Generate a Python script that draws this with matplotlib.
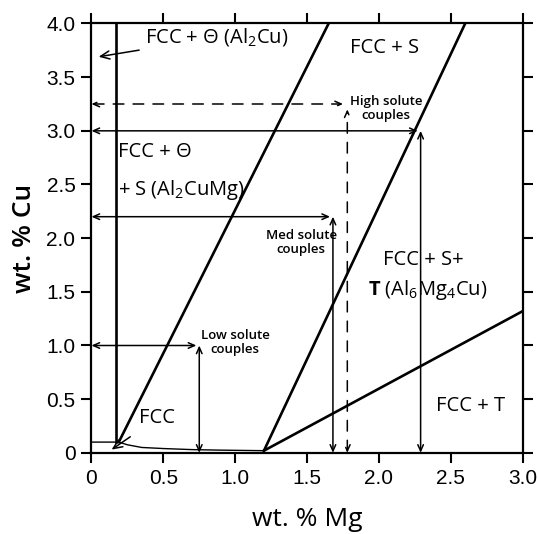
import matplotlib
matplotlib.use('Agg')
import matplotlib.pyplot as plt
import numpy as np

plt.rcParams['mathtext.fontset'] = 'custom'
plt.rcParams['mathtext.rm'] = 'Open Sans'
plt.rcParams['mathtext.bf'] = 'Open Sans:bold'

# phase boundaries (wt.% Mg, wt.% Cu)
theta_x = [0.17, 0.17]
theta_y = [0.1, 4.0]
s_left_x = [0.19, 1.65]
s_left_y = [0.1, 4.0]
s_right_x = [1.2, 2.6]
s_right_y = [0.02, 4.0]
t_x = [1.2, 3.0]
t_y = [0.02, 1.32]
solvus_x = [0.0, 0.17, 0.19, 0.25, 0.35, 0.5, 0.7, 0.9, 1.2]
solvus_y = [0.1, 0.1, 0.1, 0.075, 0.05, 0.04, 0.03, 0.025, 0.02]

# diffusion couples: (Mg end, Cu end)
low = (0.75, 1.0)
med = (1.68, 2.2)
high = (2.29, 3.0)
high_dash = (1.78, 3.25)

xticks = [0, 0.5, 1.0, 1.5, 2.0, 2.5, 3.0]
xticklabels = ['0', '0.5', '1.0', '1.5', '2.0', '2.5', '3.0']
yticks = [0, 0.5, 1.0, 1.5, 2.0, 2.5, 3.0, 3.5, 4.0]
yticklabels = ['0', '0.5', '1.0', '1.5', '2.0', '2.5', '3.0', '3.5', '4.0']

fig = plt.figure(figsize=(5.38, 5.34), dpi=100)
ax = fig.add_axes([0.170, 0.152, 0.8015, 0.804])

lw = 1.9
for xs, ys in [(theta_x, theta_y), (s_left_x, s_left_y), (s_right_x, s_right_y), (t_x, t_y)]:
    ax.plot(xs, ys, color='black', lw=lw)
ax.plot(solvus_x, solvus_y, color='black', lw=1.0)

ap = dict(arrowstyle='<->,head_length=0.45,head_width=0.2', color='black', lw=1.1,
          shrinkA=0, shrinkB=0)
apd = dict(ap, linestyle=(0, (7, 6)))

for mx, cu in [low, med, high]:
    ax.annotate('', xy=(mx - 0.02, cu), xytext=(0, cu), arrowprops=ap)
    ax.annotate('', xy=(mx, cu), xytext=(mx, 0), arrowprops=ap)
ax.annotate('', xy=(high_dash[0] - 0.03, high_dash[1]), xytext=(0, high_dash[1]), arrowprops=apd)
ax.annotate('', xy=(high_dash[0], 3.2), xytext=(high_dash[0], 0), arrowprops=apd)

tf = 'Open Sans'
fs = 14.5
one = dict(arrowstyle='->,head_length=0.45,head_width=0.2', color='black', lw=1.1, shrinkB=0)
ax.annotate('FCC + Θ (Al$_2$Cu)', xy=(0.05, 3.69), xytext=(0.37, 3.87),
            fontsize=fs, family=tf, va='center', ha='left', arrowprops=dict(one, shrinkA=2))
ax.text(2.04, 3.77, 'FCC + S', fontsize=fs, family=tf, ha='center', va='center')
ax.text(0.185, 2.8, 'FCC + Θ', fontsize=fs, family=tf, ha='left', va='center')
ax.text(0.185, 2.45, '+ S (Al$_2$CuMg)', fontsize=fs, family=tf, ha='left', va='center')
ax.text(2.05, 3.21, 'High solute\ncouples', fontsize=9.5, family=tf, weight='semibold',
        ha='center', va='center', linespacing=1.05)
ax.text(1.46, 1.96, 'Med solute\ncouples', fontsize=9.5, family=tf, weight='semibold',
        ha='center', va='center', linespacing=1.05)
ax.text(1.0, 1.03, 'Low solute\ncouples', fontsize=9.5, family=tf, weight='semibold',
        ha='center', va='center', linespacing=1.05)
ax.annotate('FCC', xy=(0.14, 0.03), xytext=(0.455, 0.32), fontsize=fs, family=tf,
            ha='center', va='center', arrowprops=dict(one, shrinkA=7))
ax.text(2.31, 1.8, 'FCC + S+', fontsize=fs, family=tf, ha='center', va='center')
ax.text(2.34, 1.52, r'$\mathbf{T}$ (Al$_6$Mg$_4$Cu)', fontsize=fs, family=tf, ha='center', va='center')
ax.text(2.64, 0.44, 'FCC + T', fontsize=fs, family=tf, ha='center', va='center')

ax.set_xlim(0, 3.0)
ax.set_ylim(0, 4.0)
ax.set_xticks(xticks)
ax.set_xticklabels(xticklabels, family='Liberation Sans', fontsize=15)
ax.set_yticks(yticks)
ax.set_yticklabels(yticklabels, family='Liberation Sans', fontsize=15)
ax.tick_params(direction='out', length=7, width=1.5, top=True, right=True, pad=4.5)
for s in ax.spines.values():
    s.set_linewidth(1.6)

ax.set_xlabel('wt. % Mg', fontsize=19, family=tf, weight='medium')
ax.set_ylabel('wt. % Cu', fontsize=19, family=tf, weight='semibold')
ax.xaxis.set_label_coords(0.5, -0.127)
ax.yaxis.set_label_coords(-0.126, 0.5)

fig.savefig('out.png', dpi=100)
